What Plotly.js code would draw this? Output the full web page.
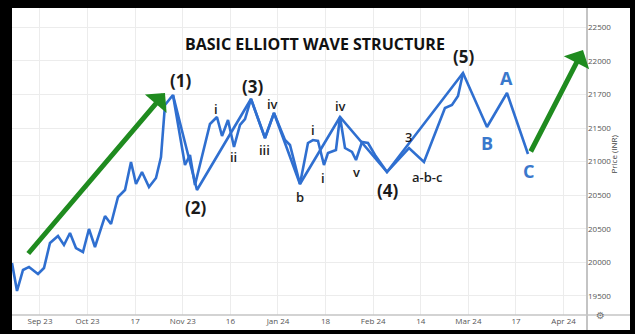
<!DOCTYPE html>
<html>
<head>
<meta charset="utf-8">
<script src="https://cdn.plot.ly/plotly-3.0.1.min.js"></script>
<style>
  html, body { margin: 0; padding: 0; background: #000; width: 635px; height: 334px; overflow: hidden; }
  #frame { position: absolute; left: 12px; top: 8px; width: 618px; height: 322px; background: #fff; }
  #plot { width: 618px; height: 322px; }
</style>
</head>
<body>
<div id="frame"><div id="plot"></div></div>
<script>
// ---- Axis ticks ----
const xTickVals = [0,1,2,3,4,5,6,7,8,9,10,11];
const xTickLabels = ["Sep 23","Oct 23","17","Nov 23","16","Jan 24","18","Feb 24","14","Mar 24","17","Apr 24"];
const yTickVals = [19500,20000,20500,21000,21500,22000,22500,23000,23500];
const yTickLabels = ["19500","20000","20500","20500","21000","21500","21700","22000","22500"];

// ---- Price path (jagged) ----
const priceX = [-0.588,-0.483,-0.357,-0.231,-0.042,0.084,0.210,0.378,0.504,0.630,0.756,0.903,1.029,1.155,1.366,1.492,1.639,1.786,1.912,2.017,2.143,2.290,2.437,2.542,2.626,2.794,3.046,3.151,3.256,3.571,3.718,3.824,3.950,4.076,4.202,4.307,4.433,4.727,4.916,5.147,5.252,5.462,5.630,5.735,5.840,5.966,6.050,6.218,6.303,6.408,6.555,6.639,6.765,6.891,7.038,7.290,7.752,8.067,8.508,8.655,8.782,8.887];
const priceY = [19991,19574,19887,19932,19827,19917,20289,20393,20259,20438,20214,20155,20497,20229,20690,20571,20973,21077,21494,21167,21345,21122,21256,21568,22342,22491,21449,21598,21152,22060,22164,21881,22119,21717,22045,22134,22432,21851,22223,21821,21747,21167,21777,21821,21807,21449,21628,21673,22164,21702,21643,21524,21792,21777,21598,21345,21702,21494,22298,22342,22476,22818];

// ---- Elliott wave path (straight legs) ----
const waveX = [2.794,3.298,4.433,4.727,4.916,5.462,6.303,7.290,8.887,9.391,9.811,10.252];
const waveY = [22491,21077,22432,21851,22223,21167,22164,21345,22818,22015,22521,21613];

// ---- Trend arrows [startX, startY, tipX, tipY] ----
const arrowUp1 = [-0.273, 20110, 2.626, 22521];
const arrowUp2 = [10.294, 21628, 11.408, 23161];

// ---- Wave labels ----
const majorLabels = ["(1)","(2)","(3)","(4)","(5)"];
const majorX = [2.962,3.277,4.454,7.311,8.887];
const majorY = [22714,20810,22625,21063,23057];

const minorLabels = ["i","ii","iii","iv","i","b","i","iv","v","3","a-b-c"];
const minorX = [3.697,4.055,4.727,4.895,5.735,5.462,5.945,6.303,6.639,7.752,8.151];
const minorY = [22283,21568,21673,22357,21970,20973,21256,22327,21345,21866,21271];

const corrLabels = ["A","B","C"];
const corrX = [9.811,9.391,10.273];
const corrY = [22744,21777,21360];

const titleText = "BASIC ELLIOTT WAVE STRUCTURE";
const yTitleText = "Price (INR)";

const BLUE = "#2f6fd0";
const GREEN = "#1f8b1f";
const FONT = "Open Sans, Roboto, sans-serif";

const traces = [
  { x: priceX, y: priceY, type: "scatter", mode: "lines",
    line: { color: BLUE, width: 2.6 }, hoverinfo: "skip" },
  { x: waveX, y: waveY, type: "scatter", mode: "lines",
    line: { color: BLUE, width: 2.6 }, hoverinfo: "skip" }
];

const annotations = [];
[arrowUp1, arrowUp2].forEach(a => {
  annotations.push({
    x: a[2], y: a[3], ax: a[0], ay: a[1], xref: "x", yref: "y", axref: "x", ayref: "y",
    text: "", showarrow: true, arrowhead: 1, arrowsize: 0.95, arrowwidth: 5, arrowcolor: GREEN
  });
});
majorLabels.forEach((t, i) => annotations.push({
  x: majorX[i], y: majorY[i], xref: "x", yref: "y", text: t, showarrow: false,
  font: { family: FONT, size: 17, color: "#1a1a1a", weight: 700 }
}));
minorLabels.forEach((t, i) => annotations.push({
  x: minorX[i], y: minorY[i], xref: "x", yref: "y", text: t, showarrow: false,
  font: { family: FONT, size: 13, color: "#222", weight: 600 }
}));
corrLabels.forEach((t, i) => annotations.push({
  x: corrX[i], y: corrY[i], xref: "x", yref: "y", text: t, showarrow: false,
  font: { family: FONT, size: 18, color: "#3a78cc", weight: 700 }
}));
annotations.push({
  x: 0.527, y: 0.925, xref: "paper", yref: "paper", text: titleText, showarrow: false,
  font: { family: FONT, size: 16, color: "#111", weight: 700 }
});
annotations.push({
  x: 1.059, y: 0.524, xref: "paper", yref: "paper", text: yTitleText, showarrow: false,
  textangle: -90, font: { family: FONT, size: 8, color: "#444" }
});
annotations.push({
  x: 1.035, y: -0.025, xref: "paper", yref: "paper", text: "⚙", showarrow: false,
  font: { family: "DejaVu Sans", size: 10, color: "#777" }
});

const layout = {
  width: 618, height: 322,
  margin: { l: 0, r: 43, t: 0, b: 15, pad: 0 },
  paper_bgcolor: "#ffffff", plot_bgcolor: "#ffffff",
  showlegend: false,
  xaxis: {
    range: [-0.588, 11.492], tickvals: xTickVals, ticktext: xTickLabels,
    showgrid: true, gridcolor: "#ececec", gridwidth: 1, zeroline: false, showline: false,
    ticks: "", tickfont: { family: FONT, size: 8, color: "#555" }, fixedrange: true
  },
  yaxis: {
    side: "right", range: [19217, 23786], tickvals: yTickVals, ticktext: yTickLabels,
    showgrid: true, gridcolor: "#ececec", gridwidth: 1, zeroline: false, showline: false,
    ticks: "", tickfont: { family: FONT, size: 8, color: "#555" }, fixedrange: true
  },
  shapes: [
    { type: "line", xref: "paper", yref: "paper", x0: 1, x1: 1, y0: -0.049, y1: 1,
      line: { color: "#c4c4c4", width: 2 } },
    { type: "line", xref: "paper", yref: "paper", x0: 0, x1: 1.075, y0: 0, y1: 0,
      line: { color: "#c4c4c4", width: 1.5 } }
  ],
  annotations: annotations
};

Plotly.newPlot("plot", traces, layout, { displayModeBar: false, staticPlot: true });
</script>
</body>
</html>
